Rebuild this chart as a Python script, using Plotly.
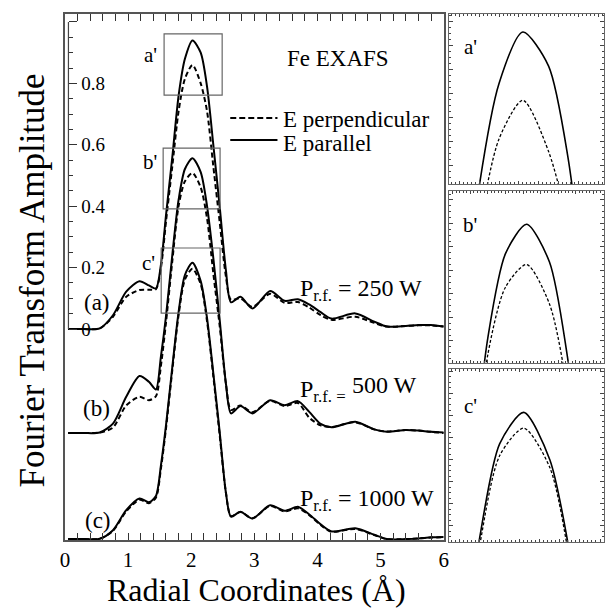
import plotly.graph_objects as go

# ---------------- data ----------------
R = [0.05, 0.30, 0.55, 0.76, 0.97, 1.18, 1.33, 1.44, 1.52, 1.60, 1.70, 1.80,
     1.90, 2.02, 2.15, 2.25, 2.35, 2.45, 2.55, 2.63, 2.78, 2.97, 3.25, 3.48,
     3.69, 3.87, 4.05, 4.22, 4.60, 4.90, 5.10, 5.40, 5.60, 5.80, 6.00]

a_par = [0, 0, 0.002, 0.045, 0.122, 0.156, 0.142, 0.132, 0.21, 0.37, 0.56, 0.76,
         0.88, 0.94, 0.90, 0.79, 0.60, 0.40, 0.19, 0.087, 0.105, 0.067, 0.124, 0.092,
         0.097, 0.08, 0.055, 0.034, 0.051, 0.024, 0.008, 0.01, 0.013, 0.013, 0.008]
a_perp = [0, 0, 0.002, 0.04, 0.105, 0.127, 0.128, 0.13, 0.2, 0.35, 0.53, 0.71,
          0.815, 0.86, 0.80, 0.71, 0.53, 0.35, 0.17, 0.095, 0.1, 0.072, 0.115, 0.085,
          0.088, 0.07, 0.045, 0.03, 0.04, 0.02, 0.008, 0.01, 0.012, 0.012, 0.008]
b_par = [0, 0, 0.002, 0.031, 0.118, 0.186, 0.167, 0.142, 0.25, 0.38, 0.58, 0.76,
         0.86, 0.895, 0.85, 0.74, 0.57, 0.37, 0.16, 0.064, 0.088, 0.064, 0.107, 0.091,
         0.104, 0.069, 0.03, 0.019, 0.037, 0.012, 0.004, 0.01, 0.008, 0.004, 0.002]
b_perp = [0, 0, 0.002, 0.018, 0.09, 0.118, 0.107, 0.12, 0.22, 0.36, 0.56, 0.74,
          0.82, 0.847, 0.80, 0.70, 0.52, 0.35, 0.16, 0.075, 0.09, 0.068, 0.105, 0.088,
          0.098, 0.05, 0.025, 0.02, 0.035, 0.012, 0.005, 0.01, 0.008, 0.004, 0.0]
c_par = [0, 0, 0.001, 0.029, 0.094, 0.132, 0.12, 0.14, 0.24, 0.37, 0.56, 0.74,
         0.86, 0.90, 0.84, 0.72, 0.54, 0.35, 0.15, 0.073, 0.089, 0.067, 0.11, 0.092,
         0.105, 0.08, 0.048, 0.025, 0.035, 0.014, 0.0, 0.0, 0.002, 0.006, 0.007]
c_perp = [0, 0, 0.001, 0.027, 0.09, 0.128, 0.117, 0.135, 0.23, 0.36, 0.55, 0.73,
          0.845, 0.88, 0.83, 0.71, 0.53, 0.34, 0.15, 0.075, 0.088, 0.068, 0.108, 0.09,
          0.1, 0.078, 0.046, 0.024, 0.033, 0.013, 0.0, 0.0, 0.002, 0.005, 0.006]

amp_ticks = [0, 0.2, 0.4, 0.6, 0.8, 1.0]
amp_ticktext = ["0", "0.2", "0.4", "0.6", "0.8", ""]
x_ticks = [0, 1, 2, 3, 4, 5, 6]
panel_labels = ["(a)", "(b)", "(c)"]
power_labels = ["250 W", "500 W", "1000 W"]
inset_labels = ["a'", "b'", "c'"]

# ---------------- layout helpers ----------------
W, H = 611, 609
FONT = "Liberation Serif"


def px(x):
    return x / W


def py(y):
    return 1 - y / H


Y0, Y1 = -0.687, 1.026          # main (a) scale range
OFF_B, OFF_C = 0.3388, 0.684     # vertical offsets of (b), (c)
SMOOTH = 0.75

fig = go.Figure()

main_axes = [("y2", a_perp, a_par), ("y3", b_perp, b_par), ("y4", c_perp, c_par)]
for yax, perp, par in main_axes:
    fig.add_trace(go.Scatter(x=R, y=perp, xaxis="x", yaxis=yax, mode="lines",
                             line=dict(color="black", width=2, dash="5px,3px", shape="spline",
                                       smoothing=SMOOTH), showlegend=False))
    fig.add_trace(go.Scatter(x=R, y=par, xaxis="x", yaxis=yax, mode="lines",
                             line=dict(color="black", width=2, shape="spline", smoothing=SMOOTH),
                             showlegend=False))

inset_axes = [("x2", "y5", a_perp, a_par), ("x3", "y6", b_perp, b_par),
              ("x4", "y7", c_perp, c_par)]
for xax, yax, perp, par in inset_axes:
    fig.add_trace(go.Scatter(x=R, y=perp, xaxis=xax, yaxis=yax, mode="lines",
                             line=dict(color="black", width=1.3, dash="3px,2px", shape="spline",
                                       smoothing=SMOOTH), showlegend=False))
    fig.add_trace(go.Scatter(x=R, y=par, xaxis=xax, yaxis=yax, mode="lines",
                             line=dict(color="black", width=1.6, shape="spline", smoothing=SMOOTH),
                             showlegend=False))

main_dom_x = [px(61), px(446)]
main_dom_y = [py(540), py(14)]
FRAME = "#555"

inset_common = dict(showline=True, linecolor="#666", linewidth=1, mirror="allticks",
                    ticks="inside", showticklabels=False, showgrid=False, zeroline=False,
                    tickcolor="#444")

fig.update_layout(
    width=W, height=H, margin=dict(l=0, r=0, t=0, b=0),
    paper_bgcolor="white", plot_bgcolor="white",
    font=dict(family=FONT, color="black"),
    xaxis=dict(domain=main_dom_x, range=[0, 6], anchor="y", showline=True, linecolor=FRAME,
               linewidth=1.5, mirror="allticks", ticks="inside", ticklen=7, tickwidth=1.2,
               tickcolor="#333", tickvals=x_ticks, ticktext=[str(t) for t in x_ticks],
               tickfont=dict(size=21, family=FONT), showgrid=False, zeroline=False,
               minor=dict(dtick=0.2, ticklen=4, ticks="inside", tickcolor="#333")),
    yaxis=dict(domain=main_dom_y, range=[Y0, Y1], anchor="x", showline=True,
               linecolor=FRAME, linewidth=1.5, mirror=True, ticks="", showticklabels=False,
               showgrid=False, zeroline=False),
    yaxis2=dict(overlaying="y", anchor="free", position=px(64.5), side="right",
                range=[Y0, Y1], showline=False, ticks="outside", ticklen=8, tickwidth=1.2,
                tickcolor="#333", tickvals=amp_ticks, ticktext=amp_ticktext,
                showticklabels=True, tickfont=dict(size=19, family=FONT, color="black"),
                showgrid=False, zeroline=False,
                minor=dict(tickvals=[round(0.05 * i, 2) for i in range(21) if i % 4],
                           ticklen=4, ticks="outside", tickcolor="#333")),
    yaxis3=dict(overlaying="y", anchor="x", range=[Y0 + OFF_B, Y1 + OFF_B], visible=False),
    yaxis4=dict(overlaying="y", anchor="x", range=[Y0 + OFF_C, Y1 + OFF_C], visible=False),
    xaxis2=dict(domain=[px(451), px(609)], anchor="y5", range=[1.645, 2.43], dtick=0.1,
                ticklen=3, minor=dict(dtick=0.02, ticklen=2, ticks="inside"), **inset_common),
    yaxis5=dict(domain=[py(184), py(14)], anchor="x2", range=[0.762, 0.961], dtick=0.028,
                ticklen=4, minor=dict(dtick=0.007, ticklen=2, ticks="inside"), **inset_common),
    xaxis3=dict(domain=[px(451), px(609)], anchor="y6", range=[1.577, 2.46], dtick=0.1,
                ticklen=3, minor=dict(dtick=0.02, ticklen=2, ticks="inside"), **inset_common),
    yaxis6=dict(domain=[py(362.7), py(190.7)], anchor="x3", range=[0.73, 0.935], dtick=0.028,
                ticklen=4, minor=dict(dtick=0.007, ticklen=2, ticks="inside"), **inset_common),
    xaxis4=dict(domain=[px(451), px(609)], anchor="y7", range=[1.646, 2.42], dtick=0.1,
                ticklen=3, minor=dict(dtick=0.02, ticklen=2, ticks="inside"), **inset_common),
    yaxis7=dict(domain=[py(541.7), py(369)], anchor="x4", range=[0.736, 0.955], dtick=0.028,
                ticklen=4, minor=dict(dtick=0.007, ticklen=2, ticks="inside"), **inset_common),
)

shapes = []
# inner amplitude axis segment for (a)
shapes.append(dict(type="line", xref="paper", yref="y", x0=px(64.5), x1=px(64.5), y0=0, y1=1.0,
                   line=dict(color="#444", width=1.2)))
# zoom boxes a', b', c'
boxes = [("y", 1.57, 2.49, 0.762, 0.961), ("y3", 1.555, 2.457, 0.73, 0.928),
         ("y4", 1.524, 2.457, 0.736, 0.948)]
for yref, xa, xb, ya, yb in boxes:
    shapes.append(dict(type="rect", xref="x", yref=yref, x0=xa, x1=xb, y0=ya, y1=yb,
                       line=dict(color="#666", width=1.2)))
# legend samples
shapes.append(dict(type="line", xref="paper", yref="paper", x0=px(229), x1=px(277),
                   y0=py(118), y1=py(118), line=dict(color="black", width=2, dash="6px,3px")))
shapes.append(dict(type="line", xref="paper", yref="paper", x0=px(229), x1=px(277),
                   y0=py(140), y1=py(140), line=dict(color="black", width=2)))
fig.update_layout(shapes=shapes)

ann = []


def txt(text, x, y, size, xanchor="center", yanchor="middle", angle=0):
    ann.append(dict(text=text, x=px(x), y=py(y), xref="paper", yref="paper", showarrow=False,
                    xanchor=xanchor, yanchor=yanchor, textangle=angle,
                    font=dict(size=size, family=FONT, color="black")))


txt("Fe EXAFS", 339, 58, 23)
txt("E perpendicular", 281, 120, 23, xanchor="left")
txt("E parallel", 281, 143, 23, xanchor="left")
for lab, (x, y) in zip(inset_labels, [(148, 55), (147, 162), (146, 263)]):
    txt(lab, x, y, 21)
for lab, (x, y) in zip(panel_labels, [(94, 302), (93, 408), (95, 520)]):
    txt(lab, x, y, 23)
txt("P<sub>r.f.</sub> = " + power_labels[0], 298, 290, 24, xanchor="left")
txt("P<sub>r.f. =</sub>", 298, 391, 24, xanchor="left")
txt(power_labels[1], 351, 385, 24, xanchor="left")
txt("P<sub>r.f.</sub> = " + power_labels[2], 298, 500, 24, xanchor="left")
for lab, (x, y) in zip(inset_labels, [(473, 47), (473, 225), (473, 406)]):
    txt(lab, x, y, 21)
txt("Radial Coordinates (Å)", 256, 590, 32)
txt("Fourier Transform Amplitude", 27, 281, 35, angle=-90)
fig.update_layout(annotations=ann)

fig.write_html("out.html", config={"displayModeBar": False},
               post_script="document.body.style.margin='0';")
